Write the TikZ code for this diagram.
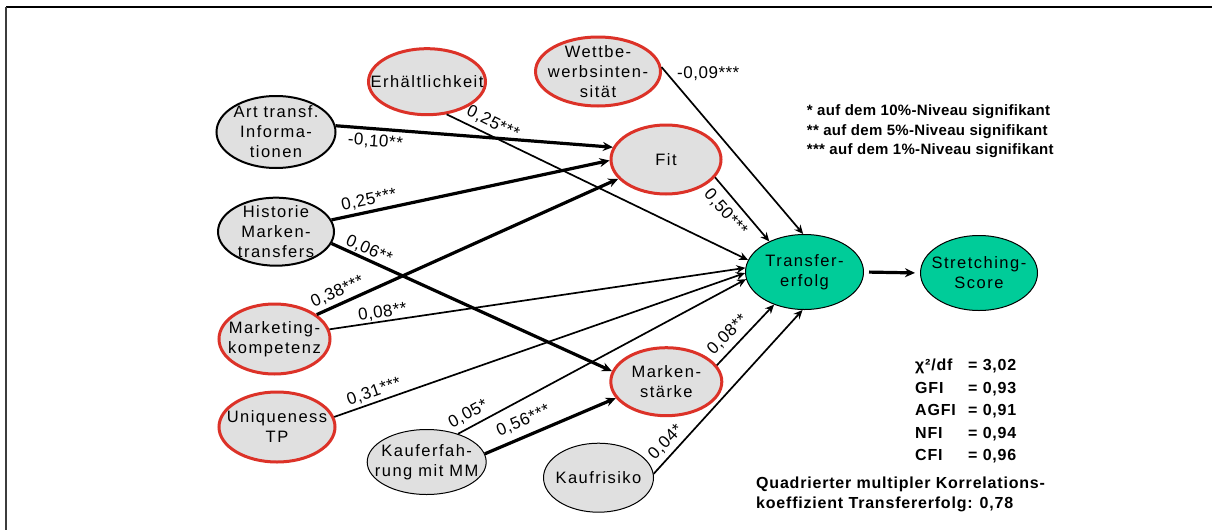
\documentclass[tikz,border=0pt]{standalone}
\usepackage{fontspec}
\setmainfont{Liberation Sans}
\newfontfamily\nodefont[LetterSpace=9]{Liberation Sans}
\newfontfamily\edgefont[LetterSpace=3]{Liberation Sans}
\newfontfamily\legfont[LetterSpace=2]{Liberation Sans}
\newfontfamily\statfont[LetterSpace=5]{Liberation Sans}
\usetikzlibrary{shapes.geometric,arrows.meta}
\definecolor{ellred}{RGB}{220,50,40}
\definecolor{ellgray}{RGB}{224,224,224}
\definecolor{ellgreen}{RGB}{0,204,153}
\definecolor{framegray}{RGB}{60,60,60}
\begin{document}
\begin{tikzpicture}[x=1pt,y=-1pt,
 ell/.style={ellipse, inner sep=0pt},
 redell/.style={ell, draw=ellred, line width=3pt, fill=ellgray},
 blkell/.style={ell, draw=black, line width=2pt, fill=ellgray},
 thinell/.style={ell, draw=black, line width=1pt, fill=ellgray},
 grnell/.style={ell, draw=black, line width=1pt, fill=ellgreen},
 txt/.style={align=center, inner sep=0pt, font=\nodefont\fontsize{16.5}{20}\selectfont},
 elbl/.style={inner sep=0pt, font=\edgefont\fontsize{17}{20}\selectfont},
 thinarr/.style={line width=1.7pt, -{Stealth[length=9pt,width=8pt]}},
 thickarr/.style={line width=3.2pt, -{Stealth[length=10pt,width=9pt]}},
]
\useasboundingbox (0,0) rectangle (1212,530);
\fill[white] (0,0) rectangle (1212,530);
\draw[line width=1.2pt] (6,7) -- (1212,7);
\draw[line width=2.2pt, framegray] (6,7) -- (6,530);

% ellipses
\node[redell, minimum width=117pt, minimum height=66pt] (erh) at (427,81.7) {};
\node[redell, minimum width=125pt, minimum height=69pt] (wett) at (598,71.5) {};
\node[blkell, minimum width=119pt, minimum height=72pt] (art) at (276,132) {};
\node[blkell, minimum width=116pt, minimum height=68pt] (hist) at (276,231.7) {};
\node[redell, minimum width=110pt, minimum height=69pt] (fit) at (666,159.5) {};
\node[redell, minimum width=111pt, minimum height=70pt] (mkt) at (274.5,339) {};
\node[redell, minimum width=116pt, minimum height=70pt] (uniq) at (277,427) {};
\node[redell, minimum width=111pt, minimum height=68pt] (mark) at (666.3,381.7) {};
\node[thinell, minimum width=119pt, minimum height=65pt] (kauf) at (426.7,462) {};
\node[thinell, minimum width=110pt, minimum height=69pt] (risk) at (598.5,477.7) {};
\node[grnell, minimum width=118pt, minimum height=75pt] (trans) at (804.5,272) {};
\node[grnell, minimum width=117pt, minimum height=75pt] (stretch) at (979,273) {};

% ellipse texts
\node[txt] (terh) at (erh) {Erhältlichkeit};
\node[txt] (twett) at (wett) {Wettbe-\\werbsinten-\\sität};
\node[txt] (tart) at (art) {Art transf.\\Informa-\\tionen};
\node[txt] (thist) at (hist) {Historie\\Marken-\\transfers};
\node[txt] (tfit) at (fit) {Fit};
\node[txt] (tmkt) at (mkt) {Marketing-\\kompetenz};
\node[txt] (tuniq) at (uniq) {Uniqueness\\TP};
\node[txt] (tmark) at (mark) {Marken-\\stärke};
\node[txt] (tkauf) at (kauf) {Kauferfah-\\rung mit MM};
\node[txt] (trisk) at (risk) {Kaufrisiko};
\node[txt] (ttrans) at (trans) {Transfer-\\erfolg};
\node[txt] (tstretch) at (stretch) {Stretching-\\Score};

% connectors
\draw[thickarr] (art.6) -- (fit.167);
\draw[thickarr] (hist.12) -- (fit.181);
\draw[thickarr] (hist.348) -- (mark.169);
\draw[thickarr] (mkt.30) -- (fit.202);
\draw[thinarr] (mkt.10) -- (trans.176);
\draw[thinarr] (erh.301) -- (trans.168);
\draw[thinarr] (wett.4) -- (trans.92);
\draw[thinarr] (fit.340) -- (trans.139);
\draw[thinarr] (uniq.10) -- (trans.181);
\draw[thinarr] (kauf.42) -- (trans.187);
\draw[thickarr] (kauf.8) -- (mark.198);
\draw[thinarr] (mark.18) -- (trans.227);
\draw[thinarr] (risk.4) -- (trans.267);
\draw[thickarr, shorten <=5pt, shorten >=5pt] (trans.east) -- (stretch.west);

% connector labels
\node[elbl, rotate=-4.3] (l1) at (375.3,141.7) {-0,10**};
\node[elbl, rotate=11.9] (l2) at (369,200) {0,25***};
\node[elbl, rotate=-24.5] (l3) at (369,250) {0,06**};
\node[elbl, rotate=24.3] (l4) at (337.5,291.7) {0,38***};
\node[elbl, rotate=8.5] (l5) at (382.5,312.5) {0,08**};
\node[elbl, rotate=-26.2] (l6) at (493,123) {0,25***};
\node[elbl] (l7) at (708.3,73.3) {-0,09***};
\node[elbl, rotate=-48.5] (l8) at (725.5,212.5) {0,50***};
\node[elbl, rotate=19.3] (l9) at (374,391.7) {0,31***};
\node[elbl, rotate=28.3] (l10) at (468.3,414) {0,05*};
\node[elbl, rotate=23] (l11) at (523.3,420.8) {0,56***};
\node[elbl, rotate=44.8] (l12) at (727.5,335) {0,08**};
\node[elbl, rotate=46.5] (l13) at (665.8,442.5) {0,04*};

% legend and statistics
\node[anchor=north west, inner sep=0pt, align=left, font=\legfont\bfseries\fontsize{15}{19.7}\selectfont] (legend) at (806.7,104.5)
 {* auf dem 10\%-Niveau signifikant\\** auf dem 5\%-Niveau signifikant\\*** auf dem 1\%-Niveau signifikant};
\node[anchor=north west, inner sep=0pt, align=left, font=\statfont\bfseries\fontsize{16}{22.5}\selectfont] (stats) at (915,359)
 {\makebox[53pt][l]{χ²/df}= 3,02\\\makebox[53pt][l]{GFI}= 0,93\\\makebox[53pt][l]{AGFI}= 0,91\\\makebox[53pt][l]{NFI}= 0,94\\\makebox[53pt][l]{CFI}= 0,96};
\node[anchor=north west, inner sep=0pt, align=left, font=\statfont\bfseries\fontsize{16}{20}\selectfont] (r2) at (756,476.8)
 {Quadrierter multipler Korrelations-\\koeffizient Transfererfolg: 0,78};
\end{tikzpicture}
\end{document}
